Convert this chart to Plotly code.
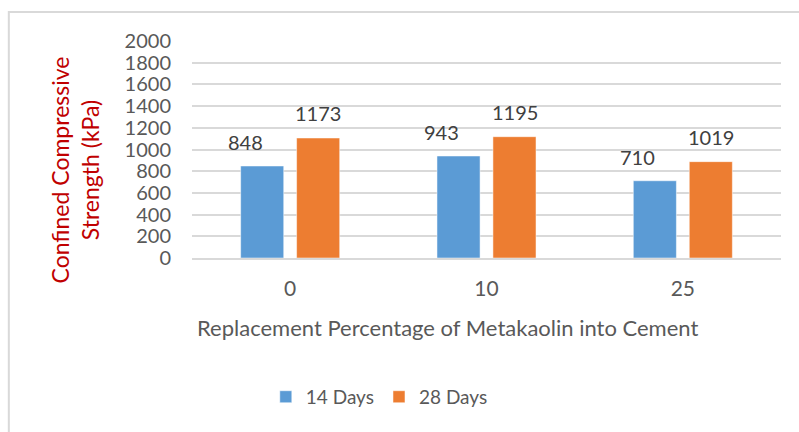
import plotly.graph_objects as go

categories = ["0", "10", "25"]
days14_heights = [848, 940, 712]
days28_heights = [1106, 1118, 888]
days14_labels = ["848", "943", "710"]
days28_labels = ["1173", "1195", "1019"]
y_ticks = [0, 200, 400, 600, 800, 1000, 1200, 1400, 1600, 1800, 2000]

FONT = "Lato, 'Open Sans', sans-serif"

fig = go.Figure()
fig.add_trace(go.Bar(x=categories, y=days14_heights, name="14 Days",
                     marker=dict(color="#5B9BD5", line=dict(color="#ffffff", width=0.5))))
fig.add_trace(go.Bar(x=categories, y=days28_heights, name="28 Days",
                     marker=dict(color="#ED7D31", line=dict(color="#ffffff", width=0.5))))

# value labels sit above the bars (category index used as position)
annotations = []
for i, (h, lab) in enumerate(zip(days14_heights, days14_labels)):
    annotations.append(dict(x=i, y=h, text=lab, showarrow=False, xshift=-45, yshift=24,
                            font=dict(size=20, color="#404040", family=FONT)))
for i, (h, lab) in enumerate(zip(days28_heights, days28_labels)):
    annotations.append(dict(x=i, y=h, text=lab, showarrow=False, xshift=28, yshift=25,
                            font=dict(size=20, color="#404040", family=FONT)))

# axis titles as annotations (they are off-centre in the original)
annotations.append(dict(xref="paper", yref="paper", x=-0.198, y=0.405,
                        xanchor="center", yanchor="middle",
                        text="Confined Compressive<br>Strength (kPa)", textangle=-90,
                        showarrow=False, font=dict(size=23, color="#C00000", family=FONT)))
annotations.append(dict(xref="paper", yref="paper", x=0.433, y=-0.318,
                        xanchor="center", yanchor="middle",
                        text="Replacement Percentage of Metakaolin into Cement",
                        showarrow=False, font=dict(size=22, color="#595959", family=FONT)))

fig.update_layout(
    width=799, height=432,
    paper_bgcolor="white", plot_bgcolor="white",
    font=dict(family=FONT, color="#595959"),
    margin=dict(l=192, r=18, t=41, b=174, autoexpand=False),
    barmode="group", bargap=0.43, bargroupgap=0.23,
    annotations=annotations,
    xaxis=dict(type="category", automargin=False, range=[-0.5, 2.5],
               tickfont=dict(size=21, color="#595959"), ticklabelstandoff=11,
               showline=True, linecolor="#d9d9d9", linewidth=1.5),
    yaxis=dict(range=[0, 2000], tickvals=y_ticks, tickfont=dict(size=20, color="#595959"),
               showgrid=True, gridcolor="#d9d9d9", gridwidth=1.5, zeroline=False,
               ticklabelstandoff=20, automargin=False),
    legend=dict(orientation="h", x=0.318, y=-0.64, xanchor="center", yanchor="middle",
                font=dict(size=19, color="#595959")),
    shapes=[dict(type="rect", xref="paper", yref="paper", x0=-0.311, y0=-0.9, x1=1.1, y1=1.134,
                 line=dict(color="#d9d9d9", width=2), layer="below")],
)

fig.write_html("out.html", config={"displayModeBar": False},
               post_script="document.body.style.margin='0';")
